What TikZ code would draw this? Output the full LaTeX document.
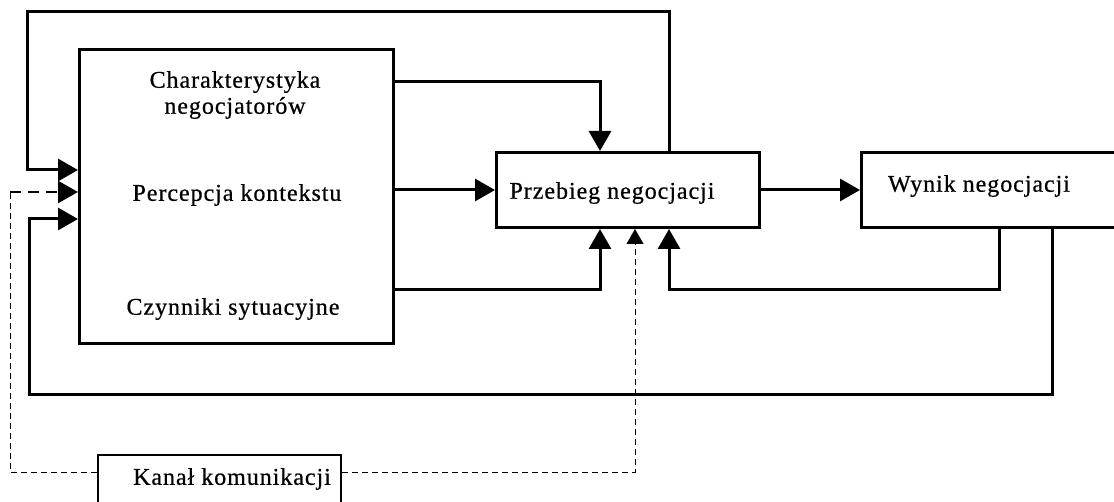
\documentclass[tikz,border=0pt]{standalone}
\usepackage{fontspec}
\setmainfont{Liberation Serif}
\newfontfamily\diagfont[FakeBold=0.6,LetterSpace=4]{Liberation Serif}
\usetikzlibrary{arrows.meta}
\begin{document}
\begin{tikzpicture}[x=1pt,y=-1pt,line join=miter,
  box/.style={draw,line width=3pt,rectangle,inner sep=0pt,anchor=north west},
  lbl/.style={font=\diagfont\fontsize{24}{28}\selectfont,inner sep=0pt},
  conn/.style={line width=3pt},
  arr/.style={conn,-{Triangle[length=20pt,width=22pt]}},
  dthin/.style={line width=1pt,dash pattern=on 6pt off 4pt},
  dthick/.style={line width=2.5pt,dash pattern=on 11pt off 7pt,-{Triangle[length=20pt,width=22pt]}},
  darr/.style={dthin,-{Triangle[length=15pt,width=17pt]}}
]
\clip (0,0) rectangle (1114,502);
\fill[white] (0,0) rectangle (1114,502);
% boxes
\node[box,minimum width=314pt,minimum height=294pt] (L) at (78,48) {};
\node[box,minimum width=263pt,minimum height=75pt] (P) at (495,151) {};
\node[box,minimum width=270pt,minimum height=75pt] (W) at (860,151) {};
\node[box,line width=2.2pt,minimum width=243pt,minimum height=70pt] (K) at (97,454) {};
% labels
\node[lbl] (t1) at (235,82) {Charakterystyka};
\node[lbl] (t2) at (235,108) {negocjatorów};
\node[lbl] (t3) at (237,195) {Percepcja kontekstu};
\node[lbl] (t4) at (233,309) {Czynniki sytuacyjne};
\node[lbl] (tP) at (612,193) {Przebieg negocjacji};
\node[lbl] (tW) at (979,186) {Wynik negocjacji};
\node[lbl] (tK) at (232,479) {Kanał komunikacji};
% connectors
\draw[arr] (L.east |- 0,82) -| (P.north -| 600,0);
\draw[arr] (L.east |- P.west) -- (P.west);
\draw[arr] (L.east |- 0,290) -| (P.south -| 600,0);
\draw[arr] (W.south -| 999,0) -- (999,290) -| (P.south -| 669,0);
\draw[arr] (P.east) -- (W.west);
\draw[arr] (P.north -| 669,0) |- (27,12) |- (L.west |- 0,170);
\draw[arr] (W.south -| 1052,0) |- (29,395) |- (L.west |- 0,219);
\draw[dthin] (K.west |- 0,472) -| (10,192);
\draw[dthick] (10,192) -- (L.west |- 0,192);
\draw[darr] (K.east |- 0,472) -| (P.south -| 635,0);
\end{tikzpicture}
\end{document}
